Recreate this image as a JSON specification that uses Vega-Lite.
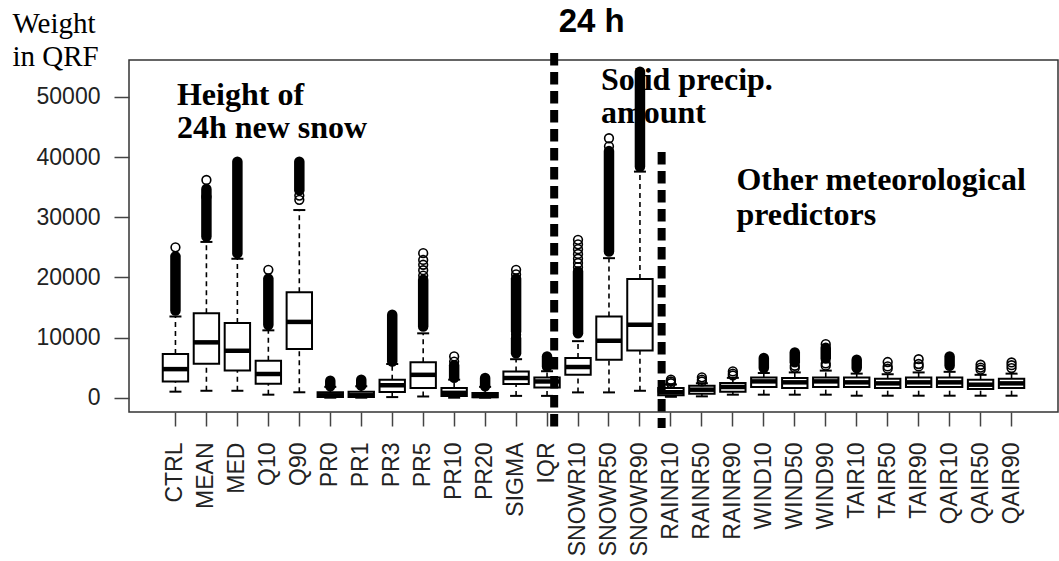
{
  "$schema": "https://vega.github.io/schema/vega-lite/v6.json",
  "width": 929,
  "height": 352,
  "autosize": "none",
  "padding": {"left": 129, "top": 60, "right": 1, "bottom": 149},
  "background": "white",
  "config": {
    "view": {"stroke": "#333", "strokeWidth": 1.5},
    "axis": {"grid": false},
    "axisY": {
      "labelFont": "Liberation Sans",
      "labelFontSize": 23,
      "labelColor": "#222",
      "tickSize": 15,
      "tickColor": "#444",
      "tickWidth": 1.5,
      "labelPadding": 14,
      "domain": false,
      "grid": false,
      "titleFont": "Liberation Serif",
      "titleFontSize": 29,
      "titleFontWeight": "normal",
      "titleColor": "black",
      "titleAngle": 0,
      "titleAlign": "left",
      "titleBaseline": "alphabetic",
      "titleX": -117,
      "titleY": -28,
      "titleLineHeight": 33
    }
  },
  "datasets": {
    "boxes": [
      {"var": "CTRL", "lo": 1000, "q1": 2700, "med": 4750, "q3": 7250, "hi": 13500},
      {"var": "MEAN", "lo": 1150, "q1": 5650, "med": 9200, "q3": 14050, "hi": 25900},
      {"var": "MED", "lo": 1150, "q1": 4500, "med": 7800, "q3": 12400, "hi": 23100},
      {"var": "Q10", "lo": 500, "q1": 2330, "med": 3930, "q3": 6150, "hi": 11200},
      {"var": "Q90", "lo": 900, "q1": 8080, "med": 12600, "q3": 17550, "hi": 31200},
      {"var": "PR0", "lo": 0, "q1": 100, "med": 400, "q3": 900, "hi": 1800},
      {"var": "PR1", "lo": 0, "q1": 100, "med": 400, "q3": 1000, "hi": 1900},
      {"var": "PR3", "lo": 100, "q1": 950, "med": 2050, "q3": 3000, "hi": 5600},
      {"var": "PR5", "lo": 200, "q1": 1600, "med": 3800, "q3": 5900, "hi": 10700},
      {"var": "PR10", "lo": 0, "q1": 300, "med": 800, "q3": 1600, "hi": 3000},
      {"var": "PR20", "lo": 0, "q1": 80, "med": 300, "q3": 800, "hi": 1800},
      {"var": "SIGMA", "lo": 300, "q1": 2270, "med": 3270, "q3": 4370, "hi": 6400},
      {"var": "IQR", "lo": 300, "q1": 1700, "med": 2700, "q3": 3370, "hi": 4400},
      {"var": "SNOWR10", "lo": 880, "q1": 3800, "med": 5100, "q3": 6600, "hi": 9400},
      {"var": "SNOWR50", "lo": 880, "q1": 6300, "med": 9470, "q3": 13500, "hi": 23200},
      {"var": "SNOWR90", "lo": 1150, "q1": 7860, "med": 12130, "q3": 19720, "hi": 37590},
      {"var": "RAINR10", "lo": 150, "q1": 400, "med": 900, "q3": 1600, "hi": 2200},
      {"var": "RAINR50", "lo": 220, "q1": 660, "med": 1330, "q3": 1990, "hi": 2400},
      {"var": "RAINR90", "lo": 500, "q1": 1000, "med": 1780, "q3": 2440, "hi": 3300},
      {"var": "WIND10", "lo": 500, "q1": 1780, "med": 2710, "q3": 3370, "hi": 4100},
      {"var": "WIND50", "lo": 500, "q1": 1610, "med": 2550, "q3": 3270, "hi": 4200},
      {"var": "WIND90", "lo": 500, "q1": 1780, "med": 2710, "q3": 3370, "hi": 4500},
      {"var": "TAIR10", "lo": 330, "q1": 1780, "med": 2550, "q3": 3370, "hi": 4000},
      {"var": "TAIR50", "lo": 330, "q1": 1610, "med": 2380, "q3": 3160, "hi": 3900},
      {"var": "TAIR90", "lo": 330, "q1": 1780, "med": 2550, "q3": 3370, "hi": 4200},
      {"var": "QAIR10", "lo": 330, "q1": 1780, "med": 2550, "q3": 3370, "hi": 4300},
      {"var": "QAIR50", "lo": 330, "q1": 1440, "med": 2160, "q3": 2990, "hi": 3800},
      {"var": "QAIR90", "lo": 330, "q1": 1610, "med": 2380, "q3": 3160, "hi": 4000}
    ],
    "dense": [
      {"var": "CTRL", "from": 14500, "to": 23500},
      {"var": "MEAN", "from": 26800, "to": 34700},
      {"var": "MED", "from": 24000, "to": 39250},
      {"var": "Q10", "from": 12100, "to": 19800},
      {"var": "Q90", "from": 34500, "to": 39250},
      {"var": "PR0", "from": 1900, "to": 2820},
      {"var": "PR1", "from": 2000, "to": 2990},
      {"var": "PR3", "from": 6030, "to": 13790},
      {"var": "PR5", "from": 11850, "to": 19600},
      {"var": "PR10", "from": 3300, "to": 5400},
      {"var": "PR20", "from": 1900, "to": 3270},
      {"var": "SIGMA", "from": 7400, "to": 9900},
      {"var": "SIGMA", "from": 11000, "to": 19800},
      {"var": "IQR", "from": 5200, "to": 6860},
      {"var": "SNOWR10", "from": 10700, "to": 21000},
      {"var": "SNOWR50", "from": 24300, "to": 41000},
      {"var": "SNOWR90", "from": 38400, "to": 54200},
      {"var": "WIND10", "from": 4930, "to": 6600},
      {"var": "WIND50", "from": 5900, "to": 7500},
      {"var": "WIND90", "from": 6500, "to": 8300},
      {"var": "TAIR10", "from": 4930, "to": 6300},
      {"var": "QAIR10", "from": 5300, "to": 6860}
    ],
    "outliers": [
      {"var": "CTRL", "value": 25000},
      {"var": "MEAN", "value": 33400},
      {"var": "MEAN", "value": 36200},
      {"var": "Q10", "value": 21260},
      {"var": "Q90", "value": 32900},
      {"var": "Q90", "value": 33600},
      {"var": "PR5", "value": 20300},
      {"var": "PR5", "value": 21200},
      {"var": "PR5", "value": 22100},
      {"var": "PR5", "value": 22900},
      {"var": "PR5", "value": 24030},
      {"var": "PR10", "value": 6000},
      {"var": "PR10", "value": 6860},
      {"var": "SIGMA", "value": 10450},
      {"var": "SIGMA", "value": 20500},
      {"var": "SIGMA", "value": 21260},
      {"var": "SNOWR10", "value": 21700},
      {"var": "SNOWR10", "value": 22400},
      {"var": "SNOWR10", "value": 23100},
      {"var": "SNOWR10", "value": 23900},
      {"var": "SNOWR10", "value": 24700},
      {"var": "SNOWR10", "value": 25500},
      {"var": "SNOWR10", "value": 26250},
      {"var": "SNOWR50", "value": 41800},
      {"var": "SNOWR50", "value": 43140},
      {"var": "RAINR10", "value": 2400},
      {"var": "RAINR10", "value": 2700},
      {"var": "RAINR10", "value": 3000},
      {"var": "RAINR50", "value": 2700},
      {"var": "RAINR50", "value": 3000},
      {"var": "RAINR50", "value": 3380},
      {"var": "RAINR90", "value": 3700},
      {"var": "RAINR90", "value": 4000},
      {"var": "RAINR90", "value": 4370},
      {"var": "WIND50", "value": 4950},
      {"var": "WIND50", "value": 5300},
      {"var": "WIND90", "value": 5320},
      {"var": "WIND90", "value": 5700},
      {"var": "WIND90", "value": 8900},
      {"var": "TAIR50", "value": 4820},
      {"var": "TAIR50", "value": 5200},
      {"var": "TAIR50", "value": 5930},
      {"var": "TAIR90", "value": 5200},
      {"var": "TAIR90", "value": 5600},
      {"var": "TAIR90", "value": 6400},
      {"var": "QAIR50", "value": 4650},
      {"var": "QAIR50", "value": 5000},
      {"var": "QAIR50", "value": 5480},
      {"var": "QAIR90", "value": 4930},
      {"var": "QAIR90", "value": 5400},
      {"var": "QAIR90", "value": 5860}
    ],
    "dividers1": [{"var": "IQR", "top": 57300, "bottom": -5040}],
    "dividers2": [{"var": "RAINR10", "top": 40850, "bottom": -5040}],
    "heading": [{"var": "SNOWR10", "y": 60810, "label": "24 h"}],
    "note1": [{"var": "CTRL", "y": 48670, "label": ["Height of", "24h new snow"]}],
    "note2": [{"var": "SNOWR50", "y": 51160, "label": ["Solid precip.", "amount"]}],
    "note3": [{"var": "RAINR90", "y": 34540, "label": ["Other meteorological", "predictors"]}]
  },
  "encoding": {
    "x": {
      "field": "var",
      "type": "nominal",
      "scale": {
        "domain": ["CTRL", "MEAN", "MED", "Q10", "Q90", "PR0", "PR1", "PR3", "PR5", "PR10", "PR20", "SIGMA", "IQR", "SNOWR10", "SNOWR50", "SNOWR90", "RAINR10", "RAINR50", "RAINR90", "WIND10", "WIND50", "WIND90", "TAIR10", "TAIR50", "TAIR90", "QAIR10", "QAIR50", "QAIR90"],
        "paddingInner": 0,
        "paddingOuter": 1.12
      },
      "axis": {
        "title": null,
        "labelAngle": -90,
        "labelFont": "Liberation Sans",
        "labelFontSize": 23,
        "labelColor": "#222",
        "labelPadding": 16,
        "tickSize": 14,
        "tickColor": "#444",
        "tickWidth": 1.5,
        "domain": false,
        "labelOverlap": false,
        "labelBound": false
      }
    }
  },
  "layer": [
    {
      "data": {"name": "boxes"},
      "mark": {"type": "rule", "strokeDash": [5, 4], "strokeWidth": 1.6, "color": "black"},
      "encoding": {
        "y": {
          "field": "lo", "type": "quantitative",
          "scale": {"domain": [-2380, 56150], "nice": false, "zero": false},
          "axis": {"values": [0, 10000, 20000, 30000, 40000, 50000], "format": "d", "title": ["Weight", "in QRF"]}
        },
        "y2": {"field": "q1"}
      }
    },
    {
      "data": {"name": "boxes"},
      "mark": {"type": "rule", "strokeDash": [5, 4], "strokeWidth": 1.6, "color": "black"},
      "encoding": {
        "y": {"field": "q3", "type": "quantitative", "scale": {"domain": [-2380, 56150], "nice": false, "zero": false}, "axis": {"values": [0, 10000, 20000, 30000, 40000, 50000], "format": "d", "title": ["Weight", "in QRF"]}},
        "y2": {"field": "hi"}
      }
    },
    {
      "data": {"name": "boxes"},
      "mark": {"type": "tick", "orient": "horizontal", "size": 12, "thickness": 2, "color": "black", "opacity": 1},
      "encoding": {
        "y": {"field": "lo", "type": "quantitative", "scale": {"domain": [-2380, 56150], "nice": false, "zero": false}, "axis": {"values": [0, 10000, 20000, 30000, 40000, 50000], "format": "d", "title": ["Weight", "in QRF"]}}
      }
    },
    {
      "data": {"name": "boxes"},
      "mark": {"type": "tick", "orient": "horizontal", "size": 12, "thickness": 2, "color": "black", "opacity": 1},
      "encoding": {
        "y": {"field": "hi", "type": "quantitative", "scale": {"domain": [-2380, 56150], "nice": false, "zero": false}, "axis": {"values": [0, 10000, 20000, 30000, 40000, 50000], "format": "d", "title": ["Weight", "in QRF"]}}
      }
    },
    {
      "data": {"name": "boxes"},
      "mark": {"type": "bar", "width": {"band": 0.82}, "fill": "white", "stroke": "black", "strokeWidth": 2, "opacity": 1},
      "encoding": {
        "y": {"field": "q1", "type": "quantitative", "scale": {"domain": [-2380, 56150], "nice": false, "zero": false}, "axis": {"values": [0, 10000, 20000, 30000, 40000, 50000], "format": "d", "title": ["Weight", "in QRF"]}},
        "y2": {"field": "q3"}
      }
    },
    {
      "data": {"name": "boxes"},
      "mark": {"type": "tick", "orient": "horizontal", "size": 25, "thickness": 4.5, "color": "black", "opacity": 1},
      "encoding": {
        "y": {"field": "med", "type": "quantitative", "scale": {"domain": [-2380, 56150], "nice": false, "zero": false}, "axis": {"values": [0, 10000, 20000, 30000, 40000, 50000], "format": "d", "title": ["Weight", "in QRF"]}}
      }
    },
    {
      "data": {"name": "dense"},
      "mark": {"type": "rule", "strokeWidth": 10.5, "strokeCap": "round", "color": "black"},
      "encoding": {
        "y": {"field": "from", "type": "quantitative", "scale": {"domain": [-2380, 56150], "nice": false, "zero": false}, "axis": {"values": [0, 10000, 20000, 30000, 40000, 50000], "format": "d", "title": ["Weight", "in QRF"]}},
        "y2": {"field": "to"}
      }
    },
    {
      "data": {"name": "outliers"},
      "mark": {"type": "point", "shape": "circle", "filled": false, "size": 76, "strokeWidth": 1.6, "color": "black", "opacity": 1},
      "encoding": {
        "y": {"field": "value", "type": "quantitative", "scale": {"domain": [-2380, 56150], "nice": false, "zero": false}, "axis": {"values": [0, 10000, 20000, 30000, 40000, 50000], "format": "d", "title": ["Weight", "in QRF"]}}
      }
    },
    {
      "data": {"name": "dividers1"},
      "mark": {"type": "rule", "strokeWidth": 8, "strokeDash": [12.5, 6.5], "color": "black"},
      "encoding": {
        "x": {"field": "var", "type": "nominal", "bandPosition": 0.73},
        "y": {"field": "top", "type": "quantitative", "scale": {"domain": [-2380, 56150], "nice": false, "zero": false}, "axis": {"values": [0, 10000, 20000, 30000, 40000, 50000], "format": "d", "title": ["Weight", "in QRF"]}},
        "y2": {"field": "bottom"}
      }
    },
    {
      "data": {"name": "dividers2"},
      "mark": {"type": "rule", "strokeWidth": 8, "strokeDash": [12.5, 6.5], "color": "black"},
      "encoding": {
        "x": {"field": "var", "type": "nominal", "bandPosition": 0.2},
        "y": {"field": "top", "type": "quantitative", "scale": {"domain": [-2380, 56150], "nice": false, "zero": false}, "axis": {"values": [0, 10000, 20000, 30000, 40000, 50000], "format": "d", "title": ["Weight", "in QRF"]}},
        "y2": {"field": "bottom"}
      }
    },
    {
      "data": {"name": "heading"},
      "mark": {"type": "text", "align": "center", "baseline": "alphabetic", "font": "Liberation Sans", "fontSize": 33, "fontWeight": "bold", "color": "black"},
      "encoding": {
        "x": {"field": "var", "type": "nominal", "bandPosition": 0.94},
        "y": {"field": "y", "type": "quantitative", "scale": {"domain": [-2380, 56150], "nice": false, "zero": false}, "axis": {"values": [0, 10000, 20000, 30000, 40000, 50000], "format": "d", "title": ["Weight", "in QRF"]}},
        "text": {"field": "label"}
      }
    },
    {
      "data": {"name": "note1"},
      "mark": {"type": "text", "align": "left", "baseline": "alphabetic", "dx": 1.5, "font": "Liberation Serif", "fontSize": 32, "fontWeight": "bold", "lineHeight": 33, "color": "black"},
      "encoding": {
        "y": {"field": "y", "type": "quantitative", "scale": {"domain": [-2380, 56150], "nice": false, "zero": false}, "axis": {"values": [0, 10000, 20000, 30000, 40000, 50000], "format": "d", "title": ["Weight", "in QRF"]}},
        "text": {"field": "label"}
      }
    },
    {
      "data": {"name": "note2"},
      "mark": {"type": "text", "align": "left", "baseline": "alphabetic", "dx": -8, "font": "Liberation Serif", "fontSize": 32, "fontWeight": "bold", "lineHeight": 33, "color": "black"},
      "encoding": {
        "y": {"field": "y", "type": "quantitative", "scale": {"domain": [-2380, 56150], "nice": false, "zero": false}, "axis": {"values": [0, 10000, 20000, 30000, 40000, 50000], "format": "d", "title": ["Weight", "in QRF"]}},
        "text": {"field": "label"}
      }
    },
    {
      "data": {"name": "note3"},
      "mark": {"type": "text", "align": "left", "baseline": "alphabetic", "dx": 3.6, "font": "Liberation Serif", "fontSize": 32, "fontWeight": "bold", "lineHeight": 35, "color": "black"},
      "encoding": {
        "y": {"field": "y", "type": "quantitative", "scale": {"domain": [-2380, 56150], "nice": false, "zero": false}, "axis": {"values": [0, 10000, 20000, 30000, 40000, 50000], "format": "d", "title": ["Weight", "in QRF"]}},
        "text": {"field": "label"}
      }
    }
  ]
}
